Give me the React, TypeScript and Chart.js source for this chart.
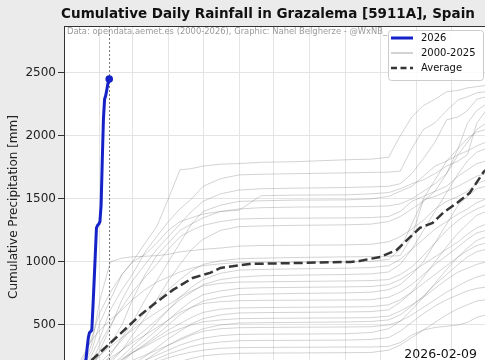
import React, { useEffect, useRef } from 'react';
import { Chart, registerables } from 'chart.js';

Chart.register(...registerables);

// ---------- data ----------
const titleText = 'Cumulative Daily Rainfall in Grazalema [5911A], Spain';
const sourceText = 'Data: opendata.aemet.es (2000-2026), Graphic: Nahel Belgherze - @WxNB_';
const yAxisTitle = 'Cumulative Precipitation [mm]';
const todayDay = 39;
const todayLabel = '2026-02-09';

const monthTicks = [0, 31, 59, 90, 120, 151, 181, 212, 243, 273, 304, 334];
const monthLabels = ['Jan', 'Feb', 'Mar', 'Apr', 'May', 'Jun', 'Jul', 'Aug', 'Sep', 'Oct', 'Nov', 'Dec'];
const yTicks = [0, 500, 1000, 1500, 2000, 2500];

// 2026 cumulative rainfall, one value per day from Jan 1 (day 0) to Feb 9 (day 39)
const rain2026 = [0, 2, 10, 25, 40, 55, 60, 62, 70, 85, 100, 110, 115, 125, 140, 150, 160, 175, 200, 230,
  320, 400, 440, 448, 460, 650, 850, 1060, 1270, 1290, 1300, 1320, 1450, 1800, 2130, 2290, 2320, 2370, 2420, 2450];

// average cumulative curve
const avgDays = [0, 10, 24, 40, 66, 80, 94, 111, 126, 135, 160, 204, 247, 255, 273, 287, 296, 307, 318, 327, 339, 350, 362, 364];
const avgVals = [0, 95, 222, 357, 580, 683, 778, 873, 913, 952, 984, 992, 1000, 1008, 1040, 1095, 1175, 1270, 1310, 1389, 1468, 1548, 1714, 1730];

// past years, sampled on these days of the year
const gridDays = [0, 8, 16, 24, 31, 40, 50, 59, 70, 80, 90, 100, 110, 120, 135, 151, 170, 200, 243, 265, 280, 290, 300, 310, 320, 330, 340, 348, 356, 364];
const rain2000 = [0, 60, 150, 300, 520, 700, 900, 1000, 1150, 1280, 1500, 1730, 1740, 1760, 1775, 1780, 1790, 1795, 1810, 1815, 1830, 2000, 2150, 2240, 2290, 2350, 2360, 2380, 2390, 2400];
const rain2001 = [0, 60, 130, 200, 260, 330, 400, 460, 540, 600, 660, 720, 770, 810, 830, 840, 842, 845, 849, 852, 860, 900, 960, 1050, 1150, 1250, 1330, 1380, 1420, 1450];
const rain2002 = [0, 10, 20, 40, 70, 100, 140, 190, 250, 320, 390, 450, 510, 550, 580, 595, 598, 600, 603, 606, 620, 680, 760, 880, 1000, 1120, 1230, 1300, 1370, 1400];
const rain2003 = [0, 5, 20, 60, 120, 200, 300, 420, 560, 700, 850, 980, 1100, 1180, 1250, 1280, 1285, 1290, 1294, 1300, 1320, 1360, 1420, 1480, 1560, 1700, 1850, 1950, 2050, 2100];
const rain2004 = [0, 5, 10, 20, 40, 70, 110, 160, 220, 280, 340, 390, 430, 470, 500, 515, 518, 520, 524, 528, 540, 580, 650, 730, 820, 900, 980, 1040, 1080, 1100];
const rain2005 = [0, 5, 10, 20, 30, 45, 65, 90, 120, 150, 180, 210, 235, 255, 268, 275, 277, 278, 280, 282, 300, 340, 400, 460, 520, 580, 630, 660, 690, 700];
const rain2006 = [0, 20, 40, 70, 110, 170, 250, 330, 420, 520, 620, 720, 800, 860, 910, 935, 940, 945, 950, 955, 970, 1020, 1100, 1180, 1260, 1320, 1380, 1420, 1470, 1500];
const rain2007 = [0, 5, 15, 30, 50, 80, 110, 150, 190, 230, 270, 300, 330, 350, 365, 375, 377, 378, 380, 385, 400, 450, 520, 590, 650, 700, 740, 770, 790, 800];
const rain2008 = [0, 30, 60, 100, 150, 220, 300, 380, 460, 540, 620, 700, 760, 820, 860, 880, 890, 895, 900, 905, 920, 980, 1100, 1250, 1400, 1550, 1700, 1800, 1870, 1900];
const rain2009 = [0, 20, 60, 150, 300, 480, 700, 850, 980, 1100, 1200, 1300, 1400, 1480, 1540, 1570, 1580, 1585, 1590, 1595, 1600, 1620, 1700, 1820, 1950, 2127, 2150, 2200, 2290, 2310];
const rain2010 = [0, 40, 120, 260, 400, 620, 780, 900, 1080, 1200, 1320, 1420, 1500, 1600, 1660, 1690, 1695, 1700, 1706, 1710, 1712, 1720, 1900, 2050, 2103, 2200, 2286, 2310, 2341, 2350];
const rain2011 = [0, 30, 90, 200, 350, 500, 640, 760, 880, 980, 1100, 1200, 1250, 1290, 1320, 1340, 1345, 1347, 1349, 1352, 1360, 1400, 1480, 1520, 1560, 1600, 1680, 1730, 1780, 1800];
const rain2012 = [0, 15, 30, 50, 70, 95, 120, 150, 180, 210, 240, 265, 285, 300, 315, 320, 322, 323, 325, 325, 330, 360, 420, 460, 480, 490, 500, 520, 560, 580];
const rain2013 = [0, 50, 100, 180, 260, 350, 500, 700, 900, 1050, 1150, 1250, 1300, 1350, 1400, 1420, 1430, 1435, 1437, 1440, 1445, 1460, 1500, 1560, 1620, 1700, 1900, 2100, 2200, 2250];
const rain2014 = [0, 40, 90, 140, 190, 240, 300, 360, 420, 480, 540, 600, 640, 670, 685, 692, 695, 696, 698, 700, 720, 760, 820, 900, 980, 1050, 1120, 1180, 1230, 1250];
const rain2015 = [0, 30, 60, 100, 140, 180, 230, 280, 330, 380, 430, 470, 500, 525, 540, 550, 552, 554, 556, 558, 570, 610, 660, 720, 790, 860, 920, 950, 980, 1000];
const rain2016 = [0, 80, 220, 400, 600, 760, 900, 1000, 1060, 1150, 1250, 1320, 1350, 1380, 1400, 1410, 1525, 1530, 1532, 1540, 1550, 1580, 1620, 1650, 1700, 1760, 1800, 1850, 2100, 2200];
const rain2017 = [0, 20, 50, 90, 130, 170, 220, 280, 340, 400, 460, 510, 560, 600, 625, 635, 638, 640, 643, 645, 660, 700, 760, 830, 900, 970, 1040, 1090, 1130, 1150];
const rain2018 = [0, 10, 30, 80, 150, 260, 400, 520, 700, 850, 1000, 1150, 1300, 1400, 1450, 1480, 1485, 1490, 1492, 1500, 1520, 1560, 1600, 1680, 1760, 1800, 1850, 1880, 1920, 1950];
const rain2019 = [0, 20, 40, 70, 100, 140, 180, 220, 260, 300, 340, 380, 420, 450, 470, 478, 480, 482, 484, 486, 500, 530, 580, 640, 700, 760, 810, 850, 880, 900];
const rain2020 = [0, 40, 150, 350, 700, 1000, 1030, 1040, 1045, 1050, 1060, 1080, 1090, 1100, 1110, 1125, 1130, 1132, 1135, 1140, 1160, 1200, 1260, 1330, 1420, 1480, 1520, 1560, 1620, 1650];
const rain2021 = [0, 10, 30, 60, 100, 150, 220, 300, 380, 460, 540, 620, 690, 740, 770, 790, 795, 798, 802, 805, 820, 860, 920, 980, 1040, 1100, 1160, 1220, 1270, 1300];
const rain2022 = [0, 10, 25, 45, 70, 100, 140, 180, 220, 260, 300, 340, 370, 395, 415, 425, 427, 428, 430, 440, 470, 530, 620, 720, 830, 940, 1040, 1110, 1170, 1200];
const rain2023 = [0, 5, 15, 40, 80, 130, 200, 280, 350, 420, 500, 580, 640, 690, 720, 740, 745, 750, 754, 760, 780, 820, 900, 1000, 1150, 1300, 1450, 1520, 1580, 1600];
const rain2024 = [0, 15, 50, 120, 200, 280, 380, 480, 600, 700, 780, 860, 930, 980, 1010, 1025, 1030, 1035, 1040, 1042, 1045, 1050, 1200, 1492, 1520, 1560, 1600, 1640, 1680, 1700];
const rain2025 = [0, 100, 250, 380, 460, 540, 620, 700, 780, 840, 880, 920, 950, 970, 985, 995, 997, 998, 1000, 1005, 1020, 1100, 1300, 1500, 1650, 1800, 1900, 1980, 2030, 2050];

const pastYears = [rain2000, rain2001, rain2002, rain2003, rain2004, rain2005, rain2006, rain2007, rain2008,
  rain2009, rain2010, rain2011, rain2012, rain2013, rain2014, rain2015, rain2016, rain2017, rain2018, rain2019,
  rain2020, rain2021, rain2022, rain2023, rain2024, rain2025];

// ---------- styles ----------
const FONT = "'DejaVu Sans', sans-serif";
const BLUE = '#1522c8';
const GRAY_LINE = 'rgba(110,110,110,0.3)';
const AVG_COLOR = '#363636';
const FIG_BG = '#ebebeb';
const GRID = '#e4e4e4';

const bgPlugin = {
  id: 'bg',
  beforeDraw(chart: any) {
    const { ctx, chartArea: a } = chart;
    ctx.save();
    ctx.fillStyle = FIG_BG;
    ctx.fillRect(0, 0, chart.width, chart.height);
    ctx.fillStyle = '#ffffff';
    ctx.fillRect(a.left, a.top, a.right - a.left, a.bottom - a.top);
    ctx.restore();
  },
  beforeDatasetsDraw(chart: any) {
    const { ctx, chartArea: a, scales } = chart;
    const x = Math.round(scales.x.getPixelForValue(todayDay)) + 0.5;
    ctx.save();
    ctx.strokeStyle = '#555';
    ctx.lineWidth = 0.8;
    ctx.setLineDash([2, 2]);
    ctx.beginPath();
    ctx.moveTo(x, a.top);
    ctx.lineTo(x, a.bottom);
    ctx.stroke();
    ctx.restore();
  },
};

const overlayPlugin = {
  id: 'overlay',
  afterDraw(chart: any) {
    const { ctx, chartArea: a } = chart;
    ctx.save();
    // top spine
    ctx.strokeStyle = '#333';
    ctx.lineWidth = 1;
    ctx.beginPath();
    ctx.moveTo(a.left, a.top + 0.5);
    ctx.lineTo(a.right, a.top + 0.5);
    ctx.stroke();

    // title
    ctx.fillStyle = '#111';
    ctx.font = `bold 13.5px ${FONT}`;
    ctx.textAlign = 'center';
    ctx.textBaseline = 'middle';
    ctx.fillText(titleText, 268, 14);

    // source text
    ctx.fillStyle = '#9a9a9a';
    ctx.font = `8.4px ${FONT}`;
    ctx.textAlign = 'left';
    ctx.fillText(sourceText, a.left + 3, a.top + 5.5);

    // date label
    ctx.fillStyle = '#111';
    ctx.font = `12.5px ${FONT}`;
    ctx.textAlign = 'right';
    ctx.fillText(todayLabel, a.right - 9, a.bottom - 33);

    // legend
    const bx = a.right - 98, by = a.top + 4, bw = 95, bh = 50;
    ctx.beginPath();
    ctx.roundRect(bx + 0.5, by + 0.5, bw, bh, 3);
    ctx.fillStyle = 'rgba(255,255,255,0.85)';
    ctx.fill();
    ctx.strokeStyle = '#cccccc';
    ctx.lineWidth = 1;
    ctx.stroke();

    const rows = [
      { label: '2026', color: BLUE, width: 3, dash: [] as number[] },
      { label: '2000-2025', color: '#c4c4c4', width: 1.5, dash: [] as number[] },
      { label: 'Average', color: AVG_COLOR, width: 2.5, dash: [6, 3.5] },
    ];
    ctx.font = `10px ${FONT}`;
    ctx.textAlign = 'left';
    ctx.textBaseline = 'middle';
    rows.forEach((r, i) => {
      const y = by + 8 + i * 15;
      ctx.beginPath();
      ctx.setLineDash(r.dash);
      ctx.strokeStyle = r.color;
      ctx.lineWidth = r.width;
      ctx.moveTo(bx + 3, y);
      ctx.lineTo(bx + 25, y);
      ctx.stroke();
      ctx.setLineDash([]);
      ctx.fillStyle = '#111';
      ctx.fillText(r.label, bx + 33, y + 0.5);
    });
    ctx.restore();
  },
};

export default function App() {
  const ref = useRef<HTMLCanvasElement | null>(null);

  useEffect(() => {
    if (!ref.current) return;
    Chart.defaults.font.family = FONT;

    const datasets: any[] = [];
    datasets.push({
      label: '2026',
      data: rain2026.map((v, i) => ({ x: i, y: v })),
      borderColor: BLUE,
      backgroundColor: BLUE,
      borderWidth: 3,
      pointRadius: (c: any) => (c.dataIndex === rain2026.length - 1 ? 3.8 : 0),
      pointBorderWidth: 0,
      borderCapStyle: 'round',
      borderJoinStyle: 'round',
    });
    datasets.push({
      label: 'Average',
      data: avgDays.map((d, i) => ({ x: d, y: avgVals[i] })),
      borderColor: AVG_COLOR,
      borderWidth: 2.5,
      borderDash: [9, 4],
      pointRadius: 0,
    });
    pastYears.forEach((yr, k) => {
      datasets.push({
        label: String(2000 + k),
        data: gridDays.map((d, i) => ({ x: d, y: yr[i] })),
        borderColor: GRAY_LINE,
        borderWidth: 1,
        pointRadius: 0,
      });
    });

    const chart = new Chart(ref.current, {
      type: 'line',
      data: { datasets },
      options: {
        animation: false,
        responsive: false,
        layout: { padding: { top: 26, right: 9, bottom: 2, left: 0 } },
        elements: { line: { tension: 0 } },
        plugins: {
          legend: { display: false },
          title: { display: false },
          tooltip: { enabled: false },
        },
        scales: {
          x: {
            type: 'linear',
            min: 0,
            max: 364,
            afterBuildTicks: (s: any) => { s.ticks = monthTicks.map((v) => ({ value: v })); },
            afterFit: (s: any) => { s.height = 30; },
            ticks: {
              font: { size: 12 },
              color: '#222',
              maxRotation: 0,
              autoSkip: false,
              callback: (v: any) => monthLabels[monthTicks.indexOf(v)] ?? '',
            },
            grid: { color: GRID, tickColor: '#333', tickLength: 6 },
            border: { color: '#333' },
          },
          y: {
            type: 'linear',
            min: 0,
            max: 2871,
            afterBuildTicks: (s: any) => { s.ticks = yTicks.map((v) => ({ value: v })); },
            afterFit: (s: any) => { s.width = 64; },
            ticks: {
              font: { size: 12 },
              color: '#222',
              padding: 2,
              callback: (v: any) => String(v),
            },
            grid: { color: GRID, tickColor: '#333', tickLength: 6 },
            border: { color: '#333' },
            title: {
              display: true,
              text: yAxisTitle,
              font: { size: 12 },
              color: '#222',
              padding: { top: 7, bottom: 0 },
            },
          },
        },
      },
      plugins: [bgPlugin, overlayPlugin],
    } as any);

    return () => chart.destroy();
  }, []);

  return (
    <div style={{ position: 'fixed', left: 0, top: 0, width: 485, height: 360, overflow: 'hidden', background: FIG_BG }}>
      <canvas ref={ref} width={495} height={420} style={{ display: 'block', width: 495, height: 420 }} />
    </div>
  );
}
